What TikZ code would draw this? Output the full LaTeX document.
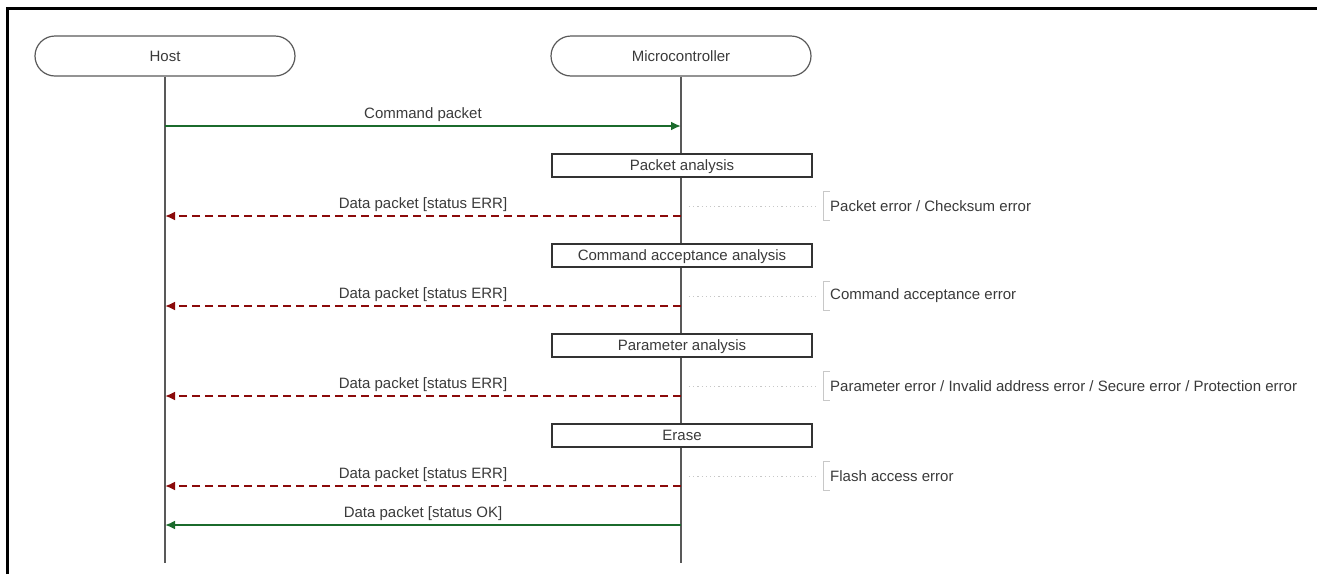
\documentclass[tikz,border=0pt]{standalone}
\usepackage{fontspec}
\setmainfont{Liberation Sans}
\usetikzlibrary{arrows.meta,calc,positioning}
\definecolor{okgreen}{HTML}{1B6B2C}
\definecolor{errred}{HTML}{8B0A0A}
\definecolor{txtgray}{HTML}{3A3A3A}
\definecolor{notegray}{HTML}{C8C8C8}

\begin{document}
\begin{tikzpicture}[x=1pt,y=-1pt,>=Latex,font=\fontsize{15}{17}\selectfont,text=txtgray]
\tikzset{
  lifehead/.style={draw=black!65,line width=1.2pt,rounded corners=20pt,minimum width=260pt,minimum height=40pt,inner sep=0pt},
  life/.style={draw=black!65,line width=1.2pt},
  actbox/.style={draw=black!80,fill=white,line width=1.2pt,minimum width=260pt,minimum height=23pt,inner sep=0pt,text height=10.5pt,text depth=1.5pt},
  okmsg/.style={draw=okgreen,line width=2.6pt,-{Latex[length=10pt,width=9pt]}},
  errmsg/.style={draw=errred,line width=2.6pt,dash pattern=on 8pt off 5pt,-{Latex[length=10pt,width=9pt]}},
  msglabel/.style={above=3pt,inner sep=0pt},
  notebox/.style={anchor=west,minimum height=28pt,inner xsep=7pt,inner ysep=0pt},
  notelink/.style={draw=notegray,line width=0.8pt,dash pattern=on 1.2pt off 3pt}
}
\useasboundingbox (0,0) rectangle (1317,574);
% frame
\draw[line width=3pt] (7,574) -- (7,8) -- (1317,8);

% lifelines
\node[lifehead] (host) at (165,56) {Host};
\node[lifehead] (mcu) at (681,56) {Microcontroller};
\coordinate (hostend) at (165,563);
\coordinate (mcuend) at (681,563);
\draw[life] (host.south) -- (hostend);
\draw[life] (mcu.south) -- (mcuend);

% command
\coordinate (cmdh) at (165,126);
\coordinate (cmdm) at (681,126);
\draw[okmsg] (cmdh) -- node[msglabel] {Command packet} (cmdm);

% packet analysis
\node[actbox] (pkt) at (682,165.5) {Packet analysis};
\coordinate (err1m) at (681,216);
\coordinate (err1h) at (165,216);
\draw[errmsg] (err1m) -- node[msglabel] {Data packet [status ERR]} (err1h);
\node[notebox] (note1) at (823,206) {Packet error / Checksum error};
\draw[draw=notegray,line width=1pt] ([xshift=7pt]note1.north west) -- (note1.north west) -- (note1.south west) -- ([xshift=7pt]note1.south west);
\draw[notelink] ([xshift=8pt]err1m |- note1.west) -- ([xshift=-5pt]note1.west);

% command acceptance analysis
\node[actbox] (acc) at (682,255.5) {Command acceptance analysis};
\coordinate (err2m) at (681,306);
\coordinate (err2h) at (165,306);
\draw[errmsg] (err2m) -- node[msglabel] {Data packet [status ERR]} (err2h);
\node[notebox] (note2) at (823,296) {Command acceptance error};
\draw[draw=notegray,line width=1pt] ([xshift=7pt]note2.north west) -- (note2.north west) -- (note2.south west) -- ([xshift=7pt]note2.south west);
\draw[notelink] ([xshift=8pt]err2m |- note2.west) -- ([xshift=-5pt]note2.west);

% parameter analysis
\node[actbox] (par) at (682,345.5) {Parameter analysis};
\coordinate (err3m) at (681,396);
\coordinate (err3h) at (165,396);
\draw[errmsg] (err3m) -- node[msglabel] {Data packet [status ERR]} (err3h);
\node[notebox] (note3) at (823,386) {Parameter error / Invalid address error / Secure error / Protection error};
\draw[draw=notegray,line width=1pt] ([xshift=7pt]note3.north west) -- (note3.north west) -- (note3.south west) -- ([xshift=7pt]note3.south west);
\draw[notelink] ([xshift=8pt]err3m |- note3.west) -- ([xshift=-5pt]note3.west);

% erase
\node[actbox] (ers) at (682,435.5) {Erase};
\coordinate (err4m) at (681,486);
\coordinate (err4h) at (165,486);
\draw[errmsg] (err4m) -- node[msglabel] {Data packet [status ERR]} (err4h);
\node[notebox] (note4) at (823,476) {Flash access error};
\draw[draw=notegray,line width=1pt] ([xshift=7pt]note4.north west) -- (note4.north west) -- (note4.south west) -- ([xshift=7pt]note4.south west);
\draw[notelink] ([xshift=8pt]err4m |- note4.west) -- ([xshift=-5pt]note4.west);

% final response
\coordinate (okm) at (681,525);
\coordinate (okh) at (165,525);
\draw[okmsg] (okm) -- node[msglabel] {Data packet [status OK]} (okh);
\end{tikzpicture}
\end{document}
